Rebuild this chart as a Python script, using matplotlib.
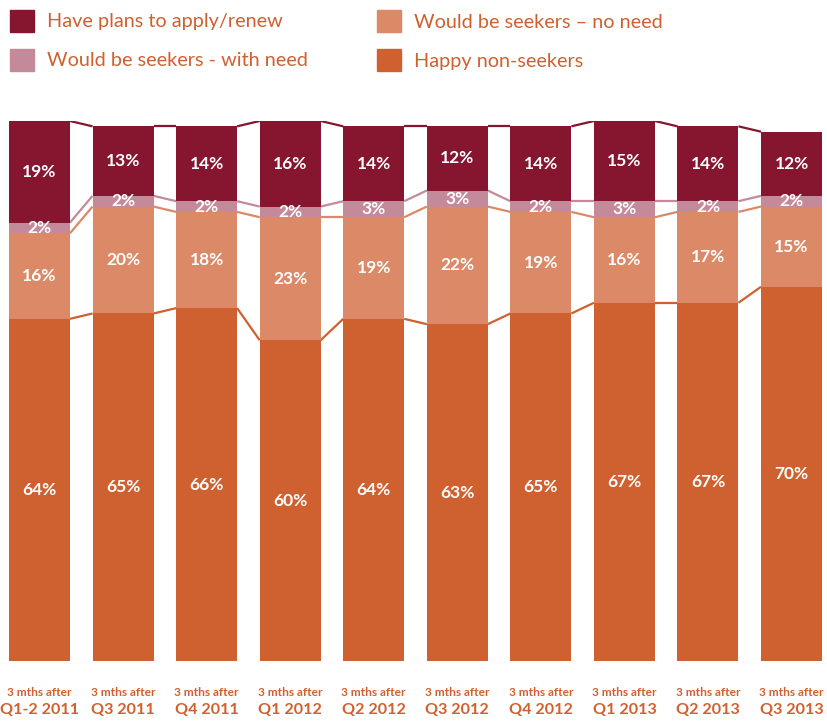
import matplotlib.pyplot as plt
from matplotlib.patches import Rectangle
from matplotlib.transforms import blended_transform_factory
import numpy as np

periods = ["Q1-2 2011", "Q3 2011", "Q4 2011", "Q1 2012", "Q2 2012",
           "Q3 2012", "Q4 2012", "Q1 2013", "Q2 2013", "Q3 2013"]
happy = [64, 65, 66, 60, 64, 63, 65, 67, 67, 70]
no_need = [16, 20, 18, 23, 19, 22, 19, 16, 17, 15]
with_need = [2, 2, 2, 2, 3, 3, 2, 3, 2, 2]
plans = [19, 13, 14, 16, 14, 12, 14, 15, 14, 12]

series = [
    ("Happy non-seekers", happy, "#CF6131"),
    ("Would be seekers \u2013 no need", no_need, "#DB8966"),
    ("Would be seekers - with need", with_need, "#C58A99"),
    ("Have plans to apply/renew", plans, "#861530"),
]
text_color = "#D0602F"

plt.rcParams['font.family'] = ['Lato', 'DejaVu Sans']

W, H = 827, 722
fig = plt.figure(figsize=(W / 100, H / 100), dpi=100)
ax = fig.add_axes([0, 61 / H, 1, 540 / H])

x = np.arange(len(periods))
width = 0.73
bottom = np.zeros(len(periods))
for name, vals, color in series:
    vals = np.array(vals, dtype=float)
    ax.bar(x, vals, width, bottom=bottom, color=color, linewidth=0, zorder=2)
    top = bottom + vals
    # connector lines from one bar's edge to the next at each boundary
    for i in range(len(x) - 1):
        ax.plot([x[i] + width / 2, x[i + 1] - width / 2], [top[i], top[i + 1]],
                color=color, lw=1.6, zorder=1, solid_capstyle='butt')
    for xi, b, v in zip(x, bottom, vals):
        ax.text(xi, b + v / 2, f"{int(v)}%", ha='center', va='center',
                color='white', fontsize=12.5, fontweight='bold', zorder=3)
    bottom = top

ax.set_xlim(-39.5 / 83.56, (W - 39.5) / 83.56)
ax.set_ylim(0, 101)
ax.axis('off')

# two-line category labels under the bars
trans = blended_transform_factory(ax.transData, fig.transFigure)
for xi, p in zip(x, periods):
    ax.text(xi, 1 - 692 / H, "3 mths after", transform=trans, ha='center',
            va='center', color=text_color, fontsize=8.6, fontweight='bold')
    ax.text(xi, 1 - 710 / H, p, transform=trans, ha='center', va='center',
            color=text_color, fontsize=11.6, fontweight='bold')

# legend in two columns at the top
legend_items = [
    (series[3], 10, 21), (series[1], 377, 21),
    (series[2], 10, 60), (series[0], 377, 60),
]
for (name, _, color), px, py in legend_items:
    fig.patches.append(Rectangle((px / W, 1 - (py + 11) / H), 24 / W, 22 / H,
                                 transform=fig.transFigure, color=color))
    fig.text((px + 37) / W, 1 - (py + 1) / H, name, ha='left', va='center',
             color=text_color, fontsize=14.3)

fig.savefig("out.png", dpi=100)
